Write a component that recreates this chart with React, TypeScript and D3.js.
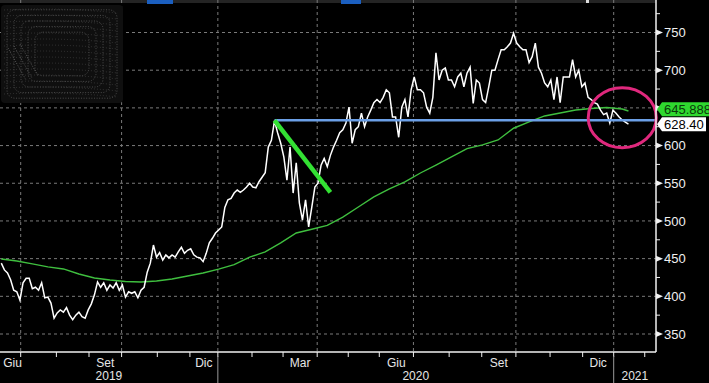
import React from "react";
import * as d3 from "d3";

const WIDTH = 709;
const HEIGHT = 383;

// Market holidays (trading-day axis, no gaps)
const HOLIDAYS = [
  "2019-08-15", "2019-12-24", "2019-12-25", "2019-12-26", "2019-12-31",
  "2020-01-01", "2020-04-10", "2020-04-13", "2020-05-01",
  "2020-12-24", "2020-12-25", "2020-12-31", "2021-01-01",
];

// Price: one sample every 2 trading days starting from PRICE_START
const PRICE_START = "2019-06-12";
const PRICE_STEP = 2;
const PRICES = [
  444, 435, 431, 422, 408, 406, 395, 418, 424, 424,
  410, 412, 408, 418, 398, 399, 391, 371, 378, 382,
  379, 385, 375, 369, 375, 379, 373, 371, 382, 390,
  402, 419, 412, 418, 408, 415, 411, 418, 408, 415,
  399, 406, 404, 406, 398, 408, 412, 432, 444, 468,
  452, 458, 448, 455, 451, 455, 452, 459, 465, 457,
  461, 463, 455, 452, 451, 446, 457, 471, 477, 484,
  488, 492, 518, 528, 530, 537, 541, 538, 541, 545,
  550, 545, 544, 552, 558, 564, 598, 607, 633, 617,
  603, 585, 554, 598, 537, 577, 524, 501, 528, 492,
  518, 545, 550, 574, 583, 572, 587, 598, 607, 617,
  621, 630, 651, 603, 621, 625, 643, 625, 638, 647,
  657, 661, 657, 664, 674, 670, 638, 638, 611, 651,
  661, 638, 674, 691, 674, 674, 670, 651, 643, 664,
  723, 687, 700, 703, 687, 687, 678, 691, 696, 678,
  696, 704, 656, 687, 683, 661, 657, 678, 700, 700,
  714, 727, 727, 731, 736, 749, 736, 731, 727, 727,
  710, 718, 736, 704, 696, 683, 678, 687, 661, 691,
  657, 691, 691, 691, 714, 691, 700, 678, 683, 664,
  661, 657, 655, 647, 641, 643, 630, 647, 643, 638,
  634, 631, 628.4,
];

// 200-day moving average, one value every MA_STEP price samples
const MA_STEP = 5;
const MA_VALUES = [
  449.5, 446.9, 443, 439, 436.3, 429.6, 424.3, 421.6, 419.7, 419,
  420.3, 423, 427, 431, 436, 442, 452, 459, 471, 484,
  489, 494, 505, 518.5, 531.8, 542.4, 551.7, 563.6, 574.2, 585,
  596, 601, 607.4, 623, 631.3, 639.3, 643.2, 647.2, 649.2, 650.5,
  648.5,
];
const MA_LAST = 645.888;
const LAST_PRICE = 628.4;

const MONTHS_IT = ["Gen", "Feb", "Mar", "Apr", "Mag", "Giu", "Lug", "Ago", "Set", "Ott", "Nov", "Dic"];
const LABELLED_MONTHS = ["2019-06", "2019-09", "2019-12", "2020-03", "2020-06", "2020-09", "2020-12"];
const YEARS = ["2019", "2020", "2021"];
const Y_MAJOR = [350, 400, 450, 500, 550, 600, 650, 700, 750];
const Y_MINOR = [375, 425, 475, 525, 575, 625, 675, 725, 775];

// Annotations (price-sample index, value)
const PEAK_INDEX = 88;
const PEAK_LEVEL = 633.5;
const TREND_END_INDEX = 106;
const TREND_END_VALUE = 538;
const CIRCLE_INDEX = 200;
const CIRCLE_VALUE = 637;

// Layout
const PLOT_RIGHT = 656;
const AXIS_Y = 352;

const fmt = d3.timeFormat("%Y-%m-%d");
const holidaySet = new Set(HOLIDAYS);
const tradingDays = d3.timeDay
  .range(new Date(2019, 5, 1), new Date(2021, 2, 1))
  .filter((d) => d.getDay() !== 0 && d.getDay() !== 6 && !holidaySet.has(fmt(d)));
const tdIndex = (s: string) => tradingDays.findIndex((d) => fmt(d) >= s);

const x = d3
  .scaleLinear()
  .domain([tdIndex("2019-07-01") - 0.5, tdIndex("2021-01-01") - 0.5])
  .range([20.7, 613.7]);
const y = d3.scaleLinear().domain([350, 750]).range([334, 32.5]);

const startIdx = tdIndex(PRICE_START);
const px = (i: number) => x(startIdx + i * PRICE_STEP);

const monthStart = (d: Date) => x(tdIndex(fmt(d)) - 0.5);
const months = d3.timeMonth.range(new Date(2019, 6, 1), new Date(2021, 1, 2));

const FONT = "'Liberation Sans', Arial, sans-serif";

function Logo() {
  const streaks = d3.range(15);
  const rings = [6, 13, 20, 27, 34];
  return (
    <g>
      <rect x={1} y={5} width={122} height={98} rx={4} fill="#0f0f0f" />
      {rings.map((k) => (
        <rect
          key={"r" + k}
          x={1 + k}
          y={5 + k * 0.8}
          width={122 - 2 * k}
          height={98 - 1.6 * k}
          rx={8}
          fill="none"
          stroke="#5a5a5a"
          strokeWidth={0.8}
          strokeDasharray="1 1.6"
        />
      ))}
      {streaks.map((k) => (
        <path
          key={"s" + k}
          d={`M4,${10 + k * 6} Q60,${7 + k * 6} 118,${13 + k * 6}`}
          fill="none"
          stroke="#444"
          strokeWidth={0.7}
          strokeDasharray="1 2"
        />
      ))}
      <path
        d="M8,48 L26,80 M14,46 L32,78 M20,44 L38,76"
        stroke="#666"
        strokeWidth={0.8}
        strokeDasharray="1 1.5"
        fill="none"
      />
    </g>
  );
}

export default function App() {
  const priceLine = d3
    .line<number>()
    .x((_, i) => px(i))
    .y((v) => y(v))(PRICES) as string;

  const maPoints: [number, number][] = MA_VALUES.map((v, j) => [px(j * MA_STEP), y(v)]);
  maPoints.push([px(PRICES.length - 1), y(MA_LAST)]);
  const maLine = d3.line()(maPoints) as string;

  const quarterLines = months.filter((m) => m.getMonth() % 3 === 0).map(monthStart);
  const monthTicks = months.map(monthStart).filter((v) => v > 0 && v < PLOT_RIGHT);

  const monthLabels = LABELLED_MONTHS.map((s) => {
    const [yy, mm] = s.split("-").map(Number);
    const a = x(tdIndex(fmt(new Date(yy, mm - 1, 1))) - 0.5);
    const b = x(tdIndex(fmt(new Date(yy, mm, 1))) - 0.5);
    return { text: MONTHS_IT[mm - 1], cx: Math.max((a + b) / 2, 12.5) };
  });

  const xJan20 = monthStart(new Date(2020, 0, 1));
  const xJan21 = monthStart(new Date(2021, 0, 1));
  const yearSpans = [
    [0, xJan20],
    [xJan20, xJan21],
    [xJan21, PLOT_RIGHT],
  ];

  const yLast = y(LAST_PRICE);
  const yMa = Math.min(y(MA_LAST), yLast - 15);
  const tag = (yc: number, right: number) =>
    `M657,${yc} L662,${yc - 7} L${right},${yc - 7} L${right},${yc + 7} L662,${yc + 7} Z`;
  const hiddenByTag = (v: number) =>
    Math.abs(y(v) - yMa) < 12 || Math.abs(y(v) - yLast) < 12;

  return (
    <svg
      width={WIDTH}
      height={HEIGHT}
      style={{ position: "absolute", left: 0, top: 0, background: "#000" }}
      fontFamily={FONT}
    >
      <rect width={WIDTH} height={HEIGHT} fill="#000" />
      {/* top strip */}
      <rect x={0} y={0} width={PLOT_RIGHT} height={3} fill="#242424" />
      <rect x={147} y={0} width={26} height={4} fill="#1b5fc0" />
      <rect x={341} y={0} width={20} height={4} fill="#1b5fc0" />
      <rect x={586} y={0} width={3} height={3} fill="#dddddd" />

      {/* gridlines */}
      {Y_MAJOR.map((v) => (
        <line key={"gy" + v} x1={0} x2={PLOT_RIGHT} y1={y(v)} y2={y(v)} stroke="#7a7a7a" strokeDasharray="3 3" strokeWidth={1} />
      ))}
      {quarterLines.map((v, i) => (
        <line key={"gx" + i} x1={v} x2={v} y1={0} y2={AXIS_Y} stroke="#7a7a7a" strokeDasharray="3 3" strokeWidth={1} />
      ))}

      {/* moving average */}
      <path d={maLine} fill="none" stroke="#3fbf3f" strokeWidth={1.4} />
      {/* price */}
      <path d={priceLine} fill="none" stroke="#ffffff" strokeWidth={1.5} strokeLinejoin="miter" />

      {/* annotations */}
      <line x1={px(PEAK_INDEX)} x2={PLOT_RIGHT} y1={y(PEAK_LEVEL)} y2={y(PEAK_LEVEL)} stroke="#6b9fe6" strokeWidth={2.5} />
      <line
        x1={px(PEAK_INDEX)}
        y1={y(PEAK_LEVEL)}
        x2={px(TREND_END_INDEX)}
        y2={y(TREND_END_VALUE)}
        stroke="#33e133"
        strokeWidth={4.5}
      />
      <ellipse cx={px(CIRCLE_INDEX)} cy={y(CIRCLE_VALUE)} rx={34} ry={30} fill="none" stroke="#e0287d" strokeWidth={3} />

      <Logo />

      {/* x axis */}
      <line x1={0} x2={PLOT_RIGHT} y1={AXIS_Y} y2={AXIS_Y} stroke="#f0f0f0" strokeWidth={1.5} />
      {monthTicks.map((v, i) => (
        <line key={"mt" + i} x1={v} x2={v} y1={AXIS_Y} y2={AXIS_Y + 5} stroke="#f0f0f0" strokeWidth={1} />
      ))}
      {monthLabels.map((m, i) => (
        <text key={"ml" + i} x={m.cx} y={367} fill="#e6e6e6" fontSize={12} textAnchor="middle">
          {m.text}
        </text>
      ))}
      {[xJan20, xJan21].map((v, i) => (
        <line key={"ys" + i} x1={v} x2={v} y1={356} y2={HEIGHT} stroke="#9a9a9a" strokeWidth={1} />
      ))}
      {yearSpans.map((s, i) => (
        <text key={"yl" + i} x={(s[0] + s[1]) / 2} y={380} fill="#e6e6e6" fontSize={12} textAnchor="middle">
          {YEARS[i]}
        </text>
      ))}

      {/* y axis */}
      <line x1={PLOT_RIGHT} x2={PLOT_RIGHT} y1={0} y2={AXIS_Y} stroke="#f0f0f0" strokeWidth={1.5} />
      {Y_MINOR.map((v) => (
        <line key={"ym" + v} x1={PLOT_RIGHT} x2={PLOT_RIGHT + 4} y1={y(v)} y2={y(v)} stroke="#f0f0f0" strokeWidth={1} />
      ))}
      {Y_MAJOR.map((v) => (
        <g key={"yt" + v}>
          <path d={`M${PLOT_RIGHT},${y(v) - 3} L${PLOT_RIGHT + 7},${y(v)} L${PLOT_RIGHT},${y(v) + 3} Z`} fill="#f0f0f0" />
          {!hiddenByTag(v) && (
            <text x={664} y={y(v)} dy="0.36em" fill="#f0f0f0" fontSize={13}>
              {v}
            </text>
          )}
        </g>
      ))}

      {/* value tags */}
      <path d={tag(yMa, 712)} fill="#2fd82f" />
      <text x={664} y={yMa} dy="0.36em" fill="#0a3a0a" fontSize={13}>
        {MA_LAST.toFixed(3)}
      </text>
      <path d={tag(yLast, 706)} fill="#ffffff" />
      <text x={664} y={yLast} dy="0.36em" fill="#000" fontSize={13}>
        {LAST_PRICE.toFixed(2)}
      </text>
    </svg>
  );
}
